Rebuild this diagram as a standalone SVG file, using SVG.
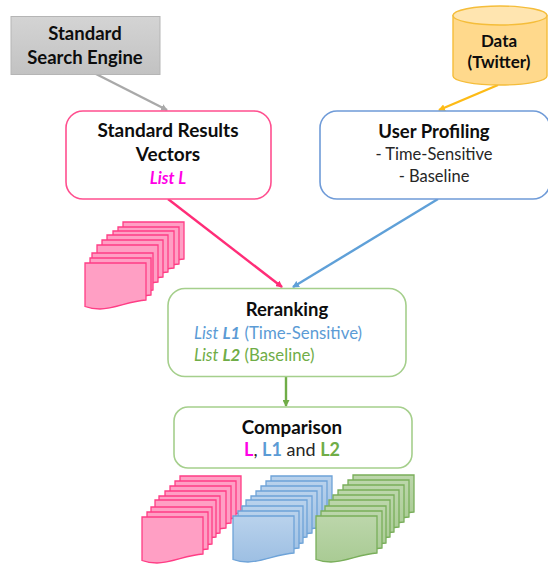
<svg xmlns="http://www.w3.org/2000/svg" xmlns:xlink="http://www.w3.org/1999/xlink" width="548" height="567" viewBox="0 0 548 567">
<style>
text{font-family:"Lato","Open Sans","Liberation Sans",sans-serif;text-anchor:middle;fill:#262626}
.h{font-weight:700;font-size:18.500px;fill:#0d0d0d}
.b{font-size:16.500px}
.box{fill:#fff;stroke-width:1.600}
.pink{fill:#ff9fc4;stroke:#ff3d85;stroke-width:1.300}
.blue{fill:url(#gb);stroke:#6ea3d8;stroke-width:1.300}
.green{fill:url(#gg);stroke:#79ae5a;stroke-width:1.300}
.c{fill:none;stroke-width:2.400}
</style>
<defs>
<linearGradient id="gs" x1="0" y1="0" x2="0" y2="1"><stop offset="0" stop-color="#d4d4d4"/><stop offset="1" stop-color="#c2c2c2"/></linearGradient>
<linearGradient id="gb" x1="0" y1="0" x2="0" y2="1"><stop offset="0" stop-color="#b9d2ec"/><stop offset="1" stop-color="#9dbfe3"/></linearGradient>
<linearGradient id="gg" x1="0" y1="0" x2="0" y2="1"><stop offset="0" stop-color="#bcd6ab"/><stop offset="1" stop-color="#a9cb94"/></linearGradient>
<path id="doc" d="M0,0H61V37C44,38 30,46 15,46C9,46 4,45 0,43.500Z"/>
<marker id="mGray" markerUnits="userSpaceOnUse" markerWidth="7" markerHeight="7" refX="6" refY="3.500" orient="auto"><path d="M0,0L7,3.500L0,7Z" fill="#a9a9a9"/></marker>
<marker id="mYellow" markerUnits="userSpaceOnUse" markerWidth="7" markerHeight="7" refX="6" refY="3.500" orient="auto"><path d="M0,0L7,3.500L0,7Z" fill="#fdbb16"/></marker>
<marker id="mPink" markerUnits="userSpaceOnUse" markerWidth="7" markerHeight="7" refX="6" refY="3.500" orient="auto"><path d="M0,0L7,3.500L0,7Z" fill="#ff2d78"/></marker>
<marker id="mBlue" markerUnits="userSpaceOnUse" markerWidth="7" markerHeight="7" refX="6" refY="3.500" orient="auto"><path d="M0,0L7,3.500L0,7Z" fill="#5fa0d8"/></marker>
<marker id="mGreen" markerUnits="userSpaceOnUse" markerWidth="7" markerHeight="7" refX="6" refY="3.500" orient="auto"><path d="M0,0L7,3.500L0,7Z" fill="#70ad47"/></marker>
</defs>

<g id="connectors">
<line class="c" x1="96" y1="74" x2="167" y2="110" stroke="#a9a9a9" marker-end="url(#mGray)"/>
<line class="c" x1="498" y1="85" x2="439" y2="110" stroke="#fdbb16" marker-end="url(#mYellow)"/>
<line class="c" x1="168" y1="199" x2="282" y2="287" stroke="#ff2d78" marker-end="url(#mPink)"/>
<line class="c" x1="438" y1="199" x2="293" y2="287" stroke="#5fa0d8" marker-end="url(#mBlue)"/>
<line class="c" x1="286" y1="377" x2="286" y2="406" stroke="#70ad47" marker-end="url(#mGreen)"/>
</g>

<g id="search-engine">
<rect x="11" y="16.500" width="149" height="58" fill="url(#gs)" stroke="#b5b5b5"/>
<text class="h" x="85" y="40">Standard</text>
<text class="h" x="85" y="64">Search Engine</text>
</g>

<g id="data-twitter">
<path d="M453,15.500V76C453,81 474,85 500,85C526,85 547,81 547,76V15.500Z" fill="#ffd98c" stroke="#f5bd3a" stroke-width="1.400"/>
<ellipse cx="500" cy="15.500" rx="47" ry="9.500" fill="#ffe5b0" stroke="#f5bd3a" stroke-width="1.400"/>
<text class="h" x="499" y="47" style="font-size:17px">Data</text>
<text class="h" x="499" y="68" style="font-size:17px">(Twitter)</text>
</g>

<g id="standard-results">
<rect class="box" x="66" y="111" width="205" height="88" rx="17" stroke="#ff4f8f"/>
<text class="h" x="168" y="136.500" style="font-size:19px">Standard Results</text>
<text class="h" x="168" y="161" style="font-size:19px">Vectors</text>
<text x="168" y="184" style="font-size:16.500px;font-weight:700;font-style:italic;fill:#ff00e6">List L</text>
</g>

<g id="user-profiling">
<rect class="box" x="320" y="111" width="230" height="88" rx="17" stroke="#6f9bd8"/>
<text class="h" x="434" y="137.500">User Profiling</text>
<text class="b" x="434" y="160">- Time-Sensitive</text>
<text class="b" x="434" y="182">- Baseline</text>
</g>

<g id="reranking">
<rect class="box" x="168" y="288.500" width="238" height="88" rx="17" stroke="#a5cf8c"/>
<text class="h" x="287" y="316">Reranking</text>
<text x="194" y="339" style="font-size:16.800px;text-anchor:start;fill:#5b9bd5"><tspan font-style="italic">List </tspan><tspan font-style="italic" font-weight="700">L1</tspan> (Time-Sensitive)</text>
<text x="194" y="361" style="font-size:16.800px;text-anchor:start;fill:#70ad47"><tspan font-style="italic">List </tspan><tspan font-style="italic" font-weight="700">L2</tspan> (Baseline)</text>
</g>

<g id="comparison">
<rect class="box" x="174" y="407" width="238" height="61" rx="14" stroke="#a5cf8c"/>
<text class="h" x="292" y="433.500" style="font-size:18.800px">Comparison</text>
<text x="292" y="456" style="font-size:18px"><tspan font-weight="700" fill="#ff00e6">L</tspan>, <tspan font-weight="700" fill="#5b9bd5">L1</tspan> and <tspan font-weight="700" fill="#70ad47">L2</tspan></text>
</g>

<g id="stack-top" class="pink">
<use xlink:href="#doc" x="123" y="222"/><use xlink:href="#doc" x="118" y="227"/><use xlink:href="#doc" x="113" y="231"/><use xlink:href="#doc" x="107" y="235"/><use xlink:href="#doc" x="102" y="240"/><use xlink:href="#doc" x="97" y="245"/><use xlink:href="#doc" x="92" y="253"/><use xlink:href="#doc" x="90" y="258"/><use xlink:href="#doc" x="85" y="263"/>
</g>
<g id="stack-pink" class="pink">
<use xlink:href="#doc" x="180" y="476"/><use xlink:href="#doc" x="175" y="481"/><use xlink:href="#doc" x="170" y="486"/><use xlink:href="#doc" x="165" y="491"/><use xlink:href="#doc" x="159" y="496"/><use xlink:href="#doc" x="155" y="500"/><use xlink:href="#doc" x="151" y="507"/><use xlink:href="#doc" x="147" y="512"/><use xlink:href="#doc" x="142" y="517"/>
</g>
<g id="stack-blue" class="blue">
<use xlink:href="#doc" x="271" y="476"/><use xlink:href="#doc" x="266" y="481"/><use xlink:href="#doc" x="261" y="486"/><use xlink:href="#doc" x="256" y="491"/><use xlink:href="#doc" x="251" y="496"/><use xlink:href="#doc" x="246" y="500"/><use xlink:href="#doc" x="242" y="506"/><use xlink:href="#doc" x="238" y="511"/><use xlink:href="#doc" x="233" y="516"/>
</g>
<g id="stack-green" class="green">
<use xlink:href="#doc" x="353" y="475"/><use xlink:href="#doc" x="348" y="480"/><use xlink:href="#doc" x="343" y="485"/><use xlink:href="#doc" x="338" y="490"/><use xlink:href="#doc" x="333" y="495"/><use xlink:href="#doc" x="329" y="500"/><use xlink:href="#doc" x="325" y="506"/><use xlink:href="#doc" x="321" y="511"/><use xlink:href="#doc" x="316" y="516"/>
</g>
</svg>
